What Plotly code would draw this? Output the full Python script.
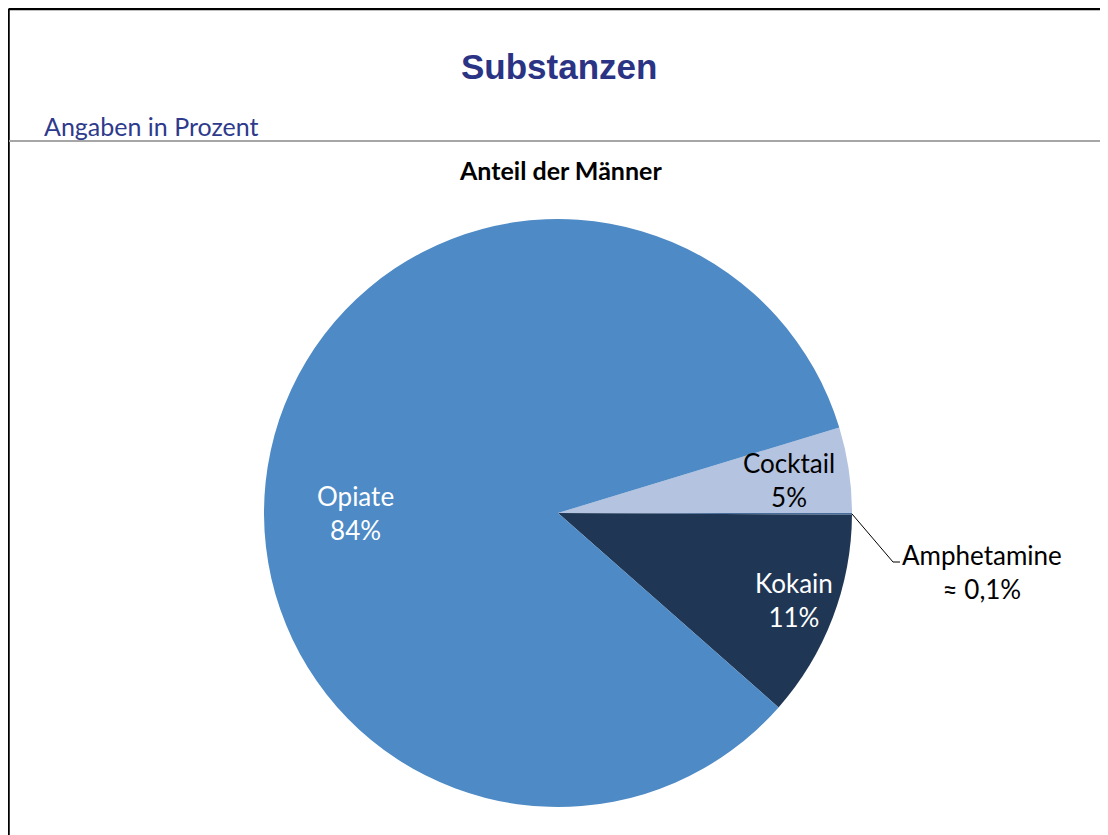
import math
import plotly.graph_objects as go

# ---- data ----
categories = ["Cocktail", "Amphetamine", "Kokain", "Opiate"]
values = [4.7, 0.1, 11.4, 83.8]
display_pct = ["5%", "≈ 0,1%", "11%", "84%"]
colors = ["#B4C3DF", "#4A6E9C", "#1F3755", "#4E8AC5"]
text_colors = ["black", "black", "white", "white"]

# page offset of the figure (body margin) and figure size
OFF = 8
W, H = 1100, 827

def px(x):
    return (x - OFF) / W

def py(y):
    return 1 - (y - OFF) / H

# pie geometry (page pixels)
cx, cy, R = 558, 513, 294
total = sum(values)
rotation = 90 - values[0] / total * 360

fig = go.Figure()
fig.add_trace(go.Pie(
    labels=categories,
    values=values,
    sort=False,
    direction="clockwise",
    rotation=rotation,
    marker=dict(colors=colors, line=dict(width=0)),
    textinfo="none",
    hoverinfo="skip",
    showlegend=False,
    domain=dict(x=[px(cx - R), px(cx + R)], y=[py(cy + R), py(cy - R)]),
))

label_font = "Lato, 'Noto Sans', sans-serif"
# label anchor positions (page pixels)
label_pos = {
    "Cocktail": (789, 480),
    "Amphetamine": (982, 572),
    "Kokain": (794, 600),
    "Opiate": (355, 513),
}
for cat, pct, tc in zip(categories, display_pct, text_colors):
    x, y = label_pos[cat]
    fig.add_annotation(
        x=px(x), y=py(y), xref="paper", yref="paper",
        text=f"{cat}<br>{pct}", showarrow=False,
        xanchor="center", yanchor="middle",
        font=dict(family=label_font, size=26, color=tc),
    )

# leader line for Amphetamine
cum = values[0] + values[1] / 2
ang = math.radians(rotation + cum / total * 360)
ex, ey = cx + R * math.sin(ang), cy - R * math.cos(ang)
fig.add_shape(
    type="path", xref="paper", yref="paper",
    path=f"M {px(ex)},{py(ey)} L {px(893)},{py(562)} L {px(900)},{py(562)}",
    line=dict(color="black", width=1),
)

# frame lines
fig.add_shape(type="line", xref="paper", yref="paper",
              x0=px(8.5), y0=py(9), x1=1, y1=py(9),
              line=dict(color="black", width=2.5))
fig.add_shape(type="line", xref="paper", yref="paper",
              x0=px(8.5), y0=py(9), x1=px(8.5), y1=0,
              line=dict(color="black", width=2.5))
fig.add_shape(type="line", xref="paper", yref="paper",
              x0=px(9), y0=py(141), x1=1, y1=py(141),
              line=dict(color="#A6A6A6", width=2))

# texts
fig.add_annotation(x=px(559), y=py(67), xref="paper", yref="paper",
                   text="<b>Substanzen</b>", showarrow=False,
                   xanchor="center", yanchor="middle",
                   font=dict(family="'Liberation Sans', Arial, sans-serif", size=35, color="#2B3384"))
fig.add_annotation(x=px(42), y=py(126), xref="paper", yref="paper",
                   text="Angaben in Prozent", showarrow=False,
                   xanchor="left", yanchor="middle",
                   font=dict(family=label_font, size=25, color="#2E3A8C"))
fig.add_annotation(x=px(560), y=py(170), xref="paper", yref="paper",
                   text="<b>Anteil der Männer</b>", showarrow=False,
                   xanchor="center", yanchor="middle",
                   font=dict(family=label_font, size=25, color="black"))

fig.update_layout(
    width=W, height=H,
    margin=dict(l=0, r=0, t=0, b=0),
    paper_bgcolor="white",
    plot_bgcolor="white",
)

fig.write_html("out.html")
